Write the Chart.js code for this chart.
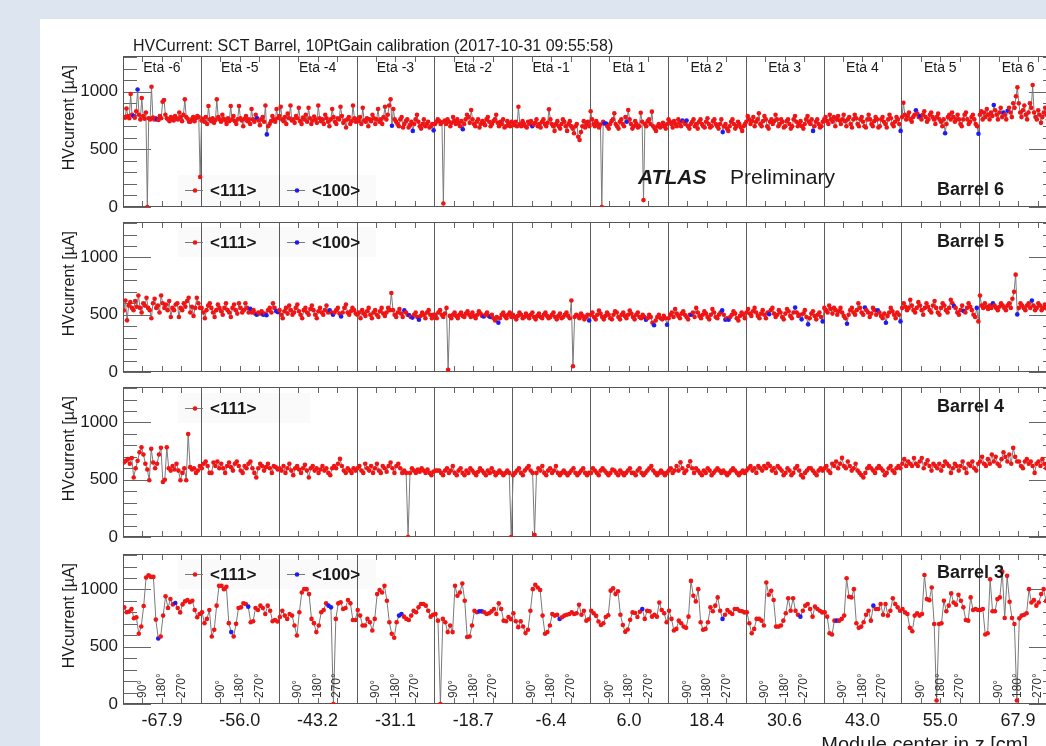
<!DOCTYPE html>
<html>
<head>
<meta charset="utf-8">
<script src="https://cdn.jsdelivr.net/npm/chart.js@4.4.1/dist/chart.umd.min.js"></script>
<style>
  html, body { margin: 0; padding: 0; width: 1046px; height: 746px; overflow: hidden; background: #dce5f0; }
  #card { position: absolute; left: 40px; top: 19px; width: 1100px; height: 800px; background: #fff; }
  canvas { position: absolute; left: 0; top: 0; }
</style>
</head>
<body>
<div id="card"></div>
<canvas id="b6" width="1100" height="746"></canvas>
<canvas id="b5" width="1100" height="746"></canvas>
<canvas id="b4" width="1100" height="746"></canvas>
<canvas id="b3" width="1100" height="746"></canvas>
<script>
const etaLabels = ['Eta -6', 'Eta -5', 'Eta -4', 'Eta -3', 'Eta -2', 'Eta -1', 'Eta 1', 'Eta 2', 'Eta 3', 'Eta 4', 'Eta 5', 'Eta 6'];
const zCenters = ['-67.9', '-56.0', '-43.2', '-31.1', '-18.7', '-6.4', '6.0', '18.4', '30.6', '43.0', '55.0', '67.9'];
const phiLabels = ['90°', '180°', '270°'];
const yTicks = [0, 500, 1000];

// HV current per module, one row per eta ring
const barrel6 = [
  [780,775,855,790,770,980,800,790,775,830,1020,800,760,945,790,765,820,0,770,760,1043,775,760,770,760,755,790,770,913,928,800,770,760,745,780,765,750,790,770,760,820,780,745,800,934,780,765,740,740,760,780,745,770,790,780,260],
  [750,765,740,780,720,876,760,745,770,730,755,934,780,760,740,800,765,750,720,770,745,876,760,790,745,720,760,876,770,750,700,765,790,745,760,720,850,760,740,800,770,750,710,760,780,740,880,630,700,720,745,790,760,740,850,770],
  [790,870,760,745,780,720,810,770,880,750,760,730,790,770,860,745,720,775,760,800,740,860,770,720,750,785,760,730,880,770,745,760,720,800,770,740,700,760,850,780,740,720,770,760,870,790,730,750,690,760,780,720,745,880,770,740],
  [760,745,780,720,860,750,740,770,700,760,745,800,770,720,760,850,740,760,720,780,870,760,800,880,934,705,850,760,740,720,700,760,780,690,720,745,760,690,710,740,660,720,760,800,740,700,680,720,760,700,720,740,690,700,720,665],
  [720,740,760,745,720,735,30,750,720,760,740,700,730,780,745,720,760,730,700,745,675,720,760,800,780,730,841,760,720,700,740,760,690,720,745,730,710,760,780,740,700,720,745,760,800,730,700,740,720,760,690,700,745,720,700,740],
  [730,710,740,700,870,720,700,745,720,700,690,740,720,745,700,715,730,760,700,720,690,740,760,720,700,730,847,760,720,700,660,720,745,700,680,720,760,740,700,660,720,745,700,680,640,700,720,610,581,650,700,745,690,720,740,700],
  [830,760,720,700,745,720,690,715,0,740,725,725,700,680,720,745,760,813,720,700,680,740,760,720,700,780,740,841,760,720,680,700,745,720,690,700,818,740,60,720,700,745,760,720,827,700,680,660,700,720,690,700,730,700,680,720],
  [760,740,720,690,745,720,700,760,730,700,750,740,720,750,700,680,720,740,760,700,720,680,740,760,720,700,690,740,770,720,690,700,745,760,720,700,680,720,760,650,700,720,680,660,700,740,760,720,680,700,740,720,690,660,700,720],
  [740,790,760,720,745,780,700,740,760,813,720,700,745,790,760,700,680,740,760,720,745,800,760,700,720,760,740,690,700,745,760,720,680,700,760,790,740,700,720,745,700,680,720,760,790,740,720,760,660,700,740,760,720,690,700,740],
  [760,780,745,720,800,760,740,780,700,760,790,750,720,760,800,745,700,760,780,720,690,760,800,770,720,700,760,780,740,700,690,760,800,760,720,700,745,780,760,690,700,760,780,740,720,690,760,800,770,720,700,740,780,760,720,660],
  [780,905,800,760,790,820,760,740,780,800,840,810,780,790,760,800,830,780,740,760,800,820,780,760,720,780,810,760,740,700,760,640,720,780,800,760,820,780,740,760,800,760,720,700,760,800,820,760,720,740,780,800,760,720,700,635],
  [800,830,760,820,780,850,800,760,820,790,885,840,800,760,820,860,780,820,800,760,835,860,820,780,900,860,960,1038,900,820,780,840,880,800,760,820,900,860,1058,820,780,760,840,800,730,780,820,860,800,760,820,780,840,800,760,820]
];
const barrel6Blue = [[7,10,24],[40,47],[],[25,40,55],[20],[14],[10,11,26],[10,13,39],[48],[55],[10,13,31,55],[10,17,20]];

const barrel5 = [
  [538,624,451,580,610,560,540,620,570,668,560,520,600,580,648,560,540,470,600,640,560,580,520,668,600,560,590,540,620,480,560,540,590,600,480,560,540,600,570,620,648,520,570,490,560,648,600,560],
  [560,520,470,540,580,600,560,520,480,540,590,560,530,500,560,600,540,520,480,560,590,540,510,600,560,520,540,600,560,520,553,520,540,510,500,520,510,530,500,510,495,540,560,520,600,560,530,523],
  [540,500,470,530,560,510,580,540,500,520,560,590,530,500,470,540,560,520,500,550,580,540,500,470,530,560,520,500,540,580,520,538,520,500,520,540,560,510,485,520,560,590,520,500,530,560,540,510],
  [500,520,470,540,510,490,530,560,500,470,520,540,500,480,530,560,510,490,520,560,540,690,540,500,480,520,550,510,480,538,520,500,495,480,475,500,520,480,457,490,520,500,470,520,540,500,470,500],
  [500,470,520,540,500,480,510,560,20,490,470,500,520,490,470,500,520,490,480,510,530,500,480,520,490,470,500,530,510,490,485,500,520,490,480,500,470,450,480,430,470,500,520,490,470,500,520,480],
  [500,480,460,490,520,500,470,480,510,490,470,500,520,480,460,490,510,480,470,500,520,490,470,480,500,520,480,460,490,510,470,480,500,520,490,470,625,50,480,500,490,470,510,490,460,480,500,450],
  [500,520,480,460,500,537,510,480,460,490,520,500,470,460,500,530,520,480,460,500,520,490,470,500,537,510,480,460,500,520,480,470,500,480,457,470,500,480,430,408,450,480,500,470,460,490,470,413],
  [470,500,520,480,550,510,490,470,510,530,500,480,460,500,500,520,480,560,520,490,470,500,530,510,480,460,500,550,520,480,470,500,520,538,500,457,470,457,480,500,530,510,470,450,490,520,500,470],
  [520,550,510,490,530,560,520,490,470,510,540,500,470,520,505,540,560,510,480,500,540,520,480,460,510,550,530,490,470,520,563,520,490,500,460,510,540,480,416,470,510,530,490,460,500,520,480,442],
  [560,540,520,580,550,510,560,540,500,530,560,520,490,470,422,500,540,560,520,500,540,600,560,520,500,563,540,520,480,510,560,540,500,538,520,490,470,510,430,490,520,560,530,500,470,520,500,442],
  [560,600,570,540,560,630,580,540,520,560,610,580,540,500,560,600,570,540,520,580,620,560,520,500,560,600,580,540,520,560,630,600,575,560,520,500,540,580,532,520,560,600,570,540,500,480,560,442],
  [668,580,560,600,570,550,580,560,600,580,560,540,570,600,580,560,540,580,600,560,640,700,850,503,560,600,580,560,540,580,600,560,625,580,540,560,600,580,540,560,590,560,540,580,600,560,540,570]
];
const barrel5Blue = [[],[30,34,38,40,46,47],[31,33,38],[29,32,34,38],[30,34,39],[47],[34,39,47],[14,33,35,37],[14,30,34,38,47],[14,25,33,38,47],[32,38,46],[8,23,32]];

const barrel4 = [
  [650,665,680,640,690,520,600,665,740,783,720,640,590,495,770,650,600,640,720,780,480,500,783,600,580,620,590,640,580,495,560,600,495,899,610,590,600,560,580,620],
  [600,640,660,620,560,560,650,620,660,600,640,600,560,620,650,610,580,640,660,620,580,560,620,600,640,660,600,560,520,600,640,620,580,610,640,600,560,620,610,590],
  [600,580,620,560,600,640,580,540,600,620,590,560,600,630,580,520,600,620,580,600,560,590,620,580,600,560,540,600,620,600,640,682,620,580,560,600,580,560,600,580],
  [600,620,580,560,640,600,580,620,560,600,640,580,560,620,600,570,620,650,600,560,620,640,600,560,580,560,0,560,600,580,560,590,570,600,580,560,590,560,540,570],
  [580,580,580,560,540,580,600,560,580,620,560,540,580,600,560,540,580,560,600,580,560,540,570,600,580,560,540,580,560,600,570,540,560,580,560,540,560,580,560,0],
  [540,560,580,600,560,540,580,600,620,580,560,20,560,600,580,620,560,540,580,600,560,580,620,560,540,560,580,560,540,560,580,600,560,540,560,580,600,560,540,560],
  [560,600,580,560,540,580,600,580,560,540,560,590,580,560,540,580,560,540,560,580,600,560,560,540,580,600,560,540,560,580,600,620,580,560,540,560,580,560,540,560],
  [580,600,560,580,620,580,653,600,560,580,620,662,600,560,600,580,560,540,580,560,600,580,540,560,580,600,580,560,580,560,540,560,580,600,580,560,540,560,580,560],
  [580,600,620,580,600,560,620,600,580,620,600,640,620,580,600,560,620,600,580,540,560,600,580,540,560,600,620,580,540,520,560,580,600,600,580,560,540,580,600,580],
  [600,620,580,560,640,620,660,600,640,691,620,600,660,620,580,600,640,580,560,540,520,560,600,620,600,580,560,600,620,600,580,540,560,600,620,580,560,600,620,600],
  [640,680,620,660,640,620,690,640,620,660,690,600,640,670,620,580,640,620,600,640,580,620,660,640,620,560,600,640,620,580,620,660,600,560,640,620,660,600,580,640],
  [660,700,640,620,680,640,720,660,700,640,620,680,740,700,660,720,640,778,700,660,660,620,600,660,680,640,660,620,560,640,660,620,680,640,600,620,660,640,620,660]
];
const barrel4Blue = [[],[],[],[],[],[],[],[],[],[],[],[]];

const barrel3 = [
  [844,801,807,830,749,757,613,677,856,1104,1124,1110,1110,737,572,590,772,940,839,917,870,882,839,800,870,896,908,890,902,821,757,786],
  [801,706,743,821,590,648,859,1032,1032,1003,1023,706,628,590,700,839,844,879,873,850,714,723,839,821,859,839,786,859,815,723,734,720],
  [760,815,772,743,786,772,685,598,801,974,1003,1003,960,743,706,628,685,801,821,879,859,844,0,743,879,888,830,839,908,879,734,734],
  [821,772,685,685,743,714,642,743,960,995,974,1032,902,714,613,578,714,772,786,763,743,734,772,815,801,844,873,873,859,815,763,780],
  [786,728,0,743,714,628,685,628,1032,945,974,1052,902,585,590,685,815,801,809,809,801,786,792,809,830,786,879,830,728,723,760,740],
  [792,723,671,723,677,619,648,815,1003,1041,1017,995,772,613,628,685,786,772,780,743,757,772,780,786,801,786,792,867,780,815,728,740],
  [815,792,770,720,690,705,760,775,990,1010,960,985,780,690,630,650,735,800,795,760,805,830,743,815,810,763,780,763,887,821,792,714],
  [815,743,642,656,728,705,676,665,763,1075,945,896,1003,714,648,656,714,844,810,859,931,815,743,780,821,801,786,830,830,815,810,800],
  [801,705,618,656,743,743,728,685,1061,954,988,908,676,676,685,728,792,924,815,924,815,780,763,815,859,873,830,763,850,830,815,800],
  [801,763,618,607,728,728,728,743,772,1098,936,931,1003,705,665,676,714,780,815,728,859,830,830,873,780,873,772,815,924,873,844,815],
  [830,800,786,665,636,772,792,772,786,1127,916,907,1017,699,30,699,705,902,810,859,966,887,867,954,902,844,734,728,931,821,830,821],
  [821,830,607,618,1090,810,810,916,931,1156,751,1119,893,751,699,30,748,772,780,792,1003,887,907,859,887,960,1003,900,860,880,840,860]
];
const barrel3Blue = [[14,21],[12,19],[20,21],[17,18],[18,19],[19],[21],[22],[22],[5,20],[],[]];

const FONT = '"Liberation Sans", Arial, Helvetica, sans-serif';
const TXT = '#1a1a1a';
const RED = '#f01414';
const BLUE = '#1c1cf5';
const LINE = '#7a7a7a';
const Y_MAX = 1310;

const panels = [
  { id: 'b6', name: 'Barrel 6', values: barrel6, blue: barrel6Blue, top: 56, bottom: 207, legend: ['<111>', '<100>'], legendY: 190, nameY: 195, first: true },
  { id: 'b5', name: 'Barrel 5', values: barrel5, blue: barrel5Blue, top: 222, bottom: 372, legend: ['<111>', '<100>'], legendY: 242, nameY: 247 },
  { id: 'b4', name: 'Barrel 4', values: barrel4, blue: barrel4Blue, top: 387, bottom: 537, legend: ['<111>'], legendY: 408, nameY: 412 },
  { id: 'b3', name: 'Barrel 3', values: barrel3, blue: barrel3Blue, top: 554, bottom: 704, legend: ['<111>', '<100>'], legendY: 574, nameY: 578, last: true }
];

function toPoints(values) {
  const pts = [];
  values.forEach((ring, e) => ring.forEach((v, i) => pts.push({ x: e + (i + 0.5) / ring.length, y: v })));
  return pts;
}

function toColors(values, blue) {
  const cols = [];
  values.forEach((ring, e) => ring.forEach((v, i) => cols.push(blue[e].includes(i) ? BLUE : RED)));
  return cols;
}

function makeDecor(p) {
  function seg(ctx, x1, y1, x2, y2) { ctx.beginPath(); ctx.moveTo(x1, y1); ctx.lineTo(x2, y2); ctx.stroke(); }
  return {
    id: 'decor',
    beforeDatasetsDraw(chart) {
      const { ctx, chartArea: a, scales: { x, y } } = chart;
      ctx.save();
      ctx.strokeStyle = '#5c5c5c';
      ctx.lineWidth = 1;
      for (let e = 1; e < 12; e++) {
        const px = Math.round(x.getPixelForValue(e)) + 0.5;
        seg(ctx, px, a.top, px, a.bottom);
      }
      ctx.strokeStyle = '#666';
      for (let v = 0; v <= 1300; v += 100) {
        const py = Math.round(y.getPixelForValue(v)) + 0.5;
        const len = v % 500 === 0 ? 28 : 14;
        seg(ctx, a.left, py, a.left + len, py);
        seg(ctx, a.right, py, a.right - len, py);
      }
      for (let q = 1; q < 48; q++) {
        if (q % 4 === 0) continue;
        const px = Math.round(x.getPixelForValue(q / 4)) + 0.5;
        seg(ctx, px, a.bottom, px, a.bottom - 6);
        seg(ctx, px, a.top, px, a.top + 6);
      }
      ctx.strokeStyle = '#555';
      ctx.strokeRect(a.left + 0.5, a.top + 0.5, a.right - a.left - 1, a.bottom - a.top - 1);

      // legend box
      const w = p.legend.length === 2 ? 198 : 132;
      ctx.fillStyle = 'rgba(0,0,0,0.02)';
      ctx.fillRect(178, p.legendY - 15, w, 30);
      const entries = [{ x: 185, c: RED }, { x: 287, c: BLUE }];
      ctx.font = 'bold 17px ' + FONT;
      ctx.textBaseline = 'middle';
      ctx.textAlign = 'left';
      p.legend.forEach((lab, k) => {
        const en = entries[k];
        ctx.strokeStyle = LINE;
        seg(ctx, en.x, p.legendY + 0.5, en.x + 18, p.legendY + 0.5);
        ctx.fillStyle = en.c;
        ctx.beginPath(); ctx.arc(en.x + 10, p.legendY + 0.5, 2.3, 0, Math.PI * 2); ctx.fill();
        ctx.fillStyle = TXT;
        ctx.fillText(lab, en.x + 25, p.legendY + 1);
      });
      ctx.restore();
    },
    afterDraw(chart) {
      const { ctx, chartArea: a, scales: { x } } = chart;
      ctx.save();
      ctx.fillStyle = TXT;
      // y title
      ctx.save();
      ctx.translate(70, a.top + 9);
      ctx.rotate(-Math.PI / 2);
      ctx.font = '16px ' + FONT;
      ctx.textAlign = 'right';
      ctx.textBaseline = 'middle';
      ctx.fillText('HVcurrent [µA]', 0, 0);
      ctx.restore();
      // barrel name
      ctx.font = 'bold 18px ' + FONT;
      ctx.textAlign = 'left';
      ctx.textBaseline = 'alphabetic';
      ctx.fillText(p.name, 937, p.nameY);
      if (p.first) {
        ctx.font = '16px ' + FONT;
        ctx.fillText('HVCurrent: SCT Barrel, 10PtGain calibration (2017-10-31 09:55:58)', 133, 51);
        ctx.font = '14px ' + FONT;
        ctx.textAlign = 'center';
        etaLabels.forEach((lab, e) => ctx.fillText(lab, x.getPixelForValue(e + 0.5), 72));
        ctx.textAlign = 'left';
        ctx.font = 'italic bold 21px ' + FONT;
        ctx.fillText('ATLAS', 638, 184);
        ctx.font = '21px ' + FONT;
        ctx.fillText('Preliminary', 730, 184);
      }
      if (p.last) {
        ctx.font = '12px ' + FONT;
        ctx.fillStyle = '#333';
        for (let e = 0; e < 12; e++) {
          phiLabels.forEach((lab, k) => {
            ctx.save();
            ctx.translate(x.getPixelForValue(e + (k + 1) / 4), 698);
            ctx.rotate(-Math.PI / 2);
            ctx.textAlign = 'left';
            ctx.textBaseline = 'middle';
            ctx.fillText(lab, 0, 0);
            ctx.restore();
          });
        }
        ctx.fillStyle = TXT;
        ctx.font = '20px ' + FONT;
        ctx.textAlign = 'right';
        ctx.fillText('Module center in z [cm]', 1028, 751);
      }
      ctx.restore();
    }
  };
}

panels.forEach(p => {
  const xAxisH = p.last ? 40 : 0;
  new Chart(document.getElementById(p.id), {
    type: 'line',
    data: {
      datasets: [{
        data: toPoints(p.values),
        borderColor: LINE,
        borderWidth: 1,
        tension: 0,
        pointRadius: 2.3,
        pointBorderWidth: 0,
        pointBackgroundColor: toColors(p.values, p.blue),
        clip: 0
      }]
    },
    options: {
      responsive: false,
      devicePixelRatio: 1,
      animation: false,
      events: [],
      layout: { padding: { left: 0, right: 43, top: p.top, bottom: 746 - p.bottom - xAxisH } },
      plugins: { legend: { display: false }, tooltip: { enabled: false } },
      scales: {
        x: {
          type: 'linear',
          min: 0,
          max: 12,
          display: !!p.last,
          grid: { display: false, drawTicks: false },
          border: { display: false },
          afterBuildTicks: s => { s.ticks = zCenters.map((_, i) => ({ value: i + 0.5 })); },
          afterFit: s => { s.height = xAxisH; },
          ticks: {
            autoSkip: false,
            maxRotation: 0,
            padding: 6,
            color: TXT,
            font: { family: FONT, size: 18 },
            callback: (v, i) => zCenters[i]
          }
        },
        y: {
          min: 0,
          max: Y_MAX,
          grid: { display: false, drawTicks: false },
          border: { display: false },
          afterBuildTicks: s => { s.ticks = yTicks.map(v => ({ value: v })); },
          afterFit: s => { s.width = 123; },
          ticks: {
            padding: 5,
            color: TXT,
            font: { family: FONT, size: 17 },
            callback: v => String(v)
          }
        }
      }
    },
    plugins: [makeDecor(p)]
  });
});
</script>
</body>
</html>
